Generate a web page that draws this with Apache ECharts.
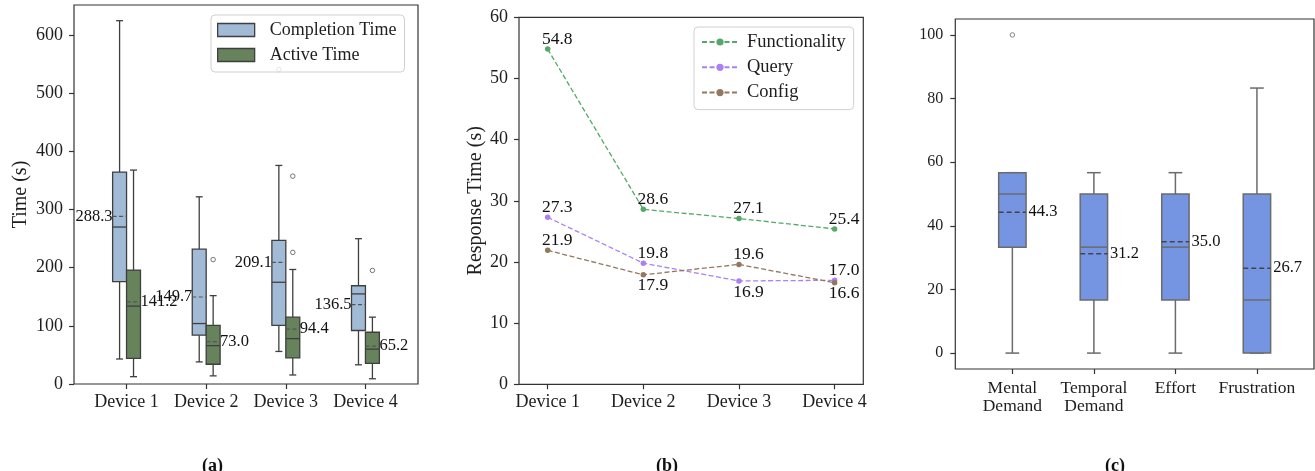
<!DOCTYPE html>
<html>
<head>
<meta charset="utf-8">
<script src="https://cdn.jsdelivr.net/npm/echarts@6/dist/echarts.min.js"></script>
<style>html,body{margin:0;padding:0;background:#fff;}#c{width:1315px;height:471px;}</style>
</head>
<body>
<div id="c"></div>
<script>
// ---------- Panel (a) data ----------
const devices = ['Device 1', 'Device 2', 'Device 3', 'Device 4'];
// [low whisker, Q1, median, Q3, high whisker]
const completionStats = [
  [43, 176, 270, 364.5, 625],
  [38, 84, 104, 232, 322],
  [56, 101, 175, 247, 376],
  [33, 92, 155, 169, 250]
];
const completionMeans = [288.3, 149.7, 209.1, 136.5];
const completionOutliers = [[2, 541]];
const activeStats = [
  [12.6, 44, 134, 196, 368],
  [14, 34, 66, 101, 152],
  [15.5, 45, 78, 115, 197],
  [9, 35.5, 60, 89, 115]
];
const activeMeans = [141.2, 73.0, 94.4, 65.2];
const activeOutliers = [[1, 214], [2, 357.6], [2, 226.4], [3, 195.4]];
const timeTicks = [0, 100, 200, 300, 400, 500, 600];

// ---------- Panel (b) data ----------
const funcTimes = [54.8, 28.6, 27.1, 25.4];
const queryTimes = [27.3, 19.8, 16.9, 17.0];
const configTimes = [21.9, 17.9, 19.6, 16.6];
const respTicks = [0, 10, 20, 30, 40, 50, 60];
// label placement (true = below the point)
const queryBelow = [false, false, true, false];
const configBelow = [false, true, false, true];

// ---------- Panel (c) data ----------
const tlxDims = ['Mental\nDemand', 'Temporal\nDemand', 'Effort', 'Frustration'];
const tlxStats = [
  [0, 33.3, 50, 56.7, 56.7],
  [0, 16.7, 33.3, 50, 56.7],
  [0, 16.7, 33.3, 50, 56.7],
  [0, 0, 16.7, 50, 83.3]
];
const tlxMeans = [44.3, 31.2, 35.0, 26.7];
const tlxOutliers = [[0, 100]];
const tlxTicks = [0, 20, 40, 60, 80, 100];

const FONT = 'Liberation Serif';
const catIdx = [0, 1, 2, 3];

function boxData(stats, means) {
  return stats.map((s, i) => [i, s[0], s[1], s[2], s[3], s[4], means[i]]);
}

function makeBoxRender(cfg) {
  return function (params, api) {
    const x = api.value(0) + cfg.offset;
    const lo = api.value(1), q1 = api.value(2), md = api.value(3), q3 = api.value(4), hi = api.value(5), mn = api.value(6);
    const px = v => api.coord([v, 0])[0];
    const py = v => api.coord([x, v])[1];
    const L = px(x - cfg.halfW), R = px(x + cfg.halfW), C = px(x);
    const cL = px(x - cfg.halfW / 2), cR = px(x + cfg.halfW / 2);
    const ls = { stroke: cfg.edge, lineWidth: cfg.edgeW };
    const children = [
      { type: 'line', shape: { x1: C, y1: py(lo), x2: C, y2: py(q1) }, style: ls },
      { type: 'line', shape: { x1: C, y1: py(q3), x2: C, y2: py(hi) }, style: ls },
      { type: 'line', shape: { x1: cL, y1: py(lo), x2: cR, y2: py(lo) }, style: ls },
      { type: 'line', shape: { x1: cL, y1: py(hi), x2: cR, y2: py(hi) }, style: ls },
      { type: 'rect', shape: { x: L, y: py(q3), width: R - L, height: py(q1) - py(q3) },
        style: { fill: cfg.fill, stroke: cfg.edge, lineWidth: cfg.edgeW } },
      { type: 'line', shape: { x1: L, y1: py(md), x2: R, y2: py(md) }, style: { stroke: cfg.medColor, lineWidth: cfg.edgeW } },
      { type: 'line', shape: { x1: L, y1: py(mn), x2: R, y2: py(mn) },
        style: { stroke: cfg.meanColor, lineWidth: cfg.meanW, lineDash: cfg.meanDash } },
      { type: 'text', style: {
          text: mn.toFixed(1),
          x: cfg.labelSide === 'left' ? L - cfg.labelGap : R + cfg.labelGap,
          y: py(mn),
          align: cfg.labelSide === 'left' ? 'right' : 'left',
          verticalAlign: 'middle',
          fontSize: cfg.labelSize, fontFamily: FONT, fill: '#111'
        } }
    ];
    return { type: 'group', children: children };
  };
}

const axisTextA = { fontFamily: FONT, fontSize: 18, color: '#1e1e1e' };
const tickStyle = { color: '#333', width: 1.2 };
const hiddenLine = { show: false, onZero: false };

const option = {
  animation: false,
  backgroundColor: '#fff',
  title: [
    { text: '(a)', left: 207.5, top: 452, textAlign: 'center', textStyle: { fontFamily: FONT, fontSize: 18, fontWeight: 'bold', color: '#111' } },
    { text: '(b)', left: 662, top: 452, textAlign: 'center', textStyle: { fontFamily: FONT, fontSize: 18, fontWeight: 'bold', color: '#111' } },
    { text: '(c)', left: 1110, top: 452, textAlign: 'center', textStyle: { fontFamily: FONT, fontSize: 18, fontWeight: 'bold', color: '#111' } }
  ],
  grid: [
    { left: 74, top: 5, width: 344, height: 379, show: true, borderColor: '#333', borderWidth: 1.2, backgroundColor: 'transparent' },
    { left: 519, top: 17.3, width: 344.3, height: 367, show: true, borderColor: '#333', borderWidth: 1.2, backgroundColor: 'transparent' },
    { left: 955.3, top: 19, width: 358.7, height: 350, show: true, borderColor: '#333', borderWidth: 1.2, backgroundColor: 'transparent' }
  ],
  xAxis: [
    { gridIndex: 0, type: 'value', min: -0.66, max: 3.66, splitLine: { show: false }, axisLine: hiddenLine,
      axisTick: { customValues: catIdx, length: 5, lineStyle: tickStyle },
      axisLabel: Object.assign({ customValues: catIdx, margin: 9, formatter: v => devices[Math.round(v)] }, axisTextA) },
    { gridIndex: 1, type: 'value', min: -0.3, max: 3.3, splitLine: { show: false }, axisLine: hiddenLine,
      axisTick: { customValues: catIdx, length: 5, lineStyle: tickStyle },
      axisLabel: Object.assign({ customValues: catIdx, margin: 9, formatter: v => devices[Math.round(v)] }, axisTextA) },
    { gridIndex: 2, type: 'value', min: -0.7, max: 3.7, splitLine: { show: false }, axisLine: hiddenLine,
      axisTick: { customValues: catIdx, length: 5, lineStyle: tickStyle },
      axisLabel: { customValues: catIdx, margin: 10, formatter: v => tlxDims[Math.round(v)],
        fontFamily: FONT, fontSize: 17.5, color: '#1e1e1e', lineHeight: 18 } }
  ],
  yAxis: [
    { gridIndex: 0, type: 'value', min: 0, max: 652, splitLine: { show: false }, axisLine: hiddenLine,
      name: 'Time (s)', nameLocation: 'middle', nameGap: 43,
      nameTextStyle: { fontFamily: FONT, fontSize: 20, color: '#1e1e1e' },
      axisTick: { customValues: timeTicks, length: 5, lineStyle: tickStyle },
      axisLabel: Object.assign({ customValues: timeTicks, margin: 11 }, axisTextA) },
    { gridIndex: 1, type: 'value', min: 0, max: 60, splitLine: { show: false }, axisLine: hiddenLine,
      name: 'Response Time (s)', nameLocation: 'middle', nameGap: 30,
      nameTextStyle: { fontFamily: FONT, fontSize: 20, color: '#1e1e1e' },
      axisTick: { customValues: respTicks, length: 5, lineStyle: tickStyle },
      axisLabel: Object.assign({ customValues: respTicks, margin: 11 }, axisTextA) },
    { gridIndex: 2, type: 'value', min: -5, max: 105, splitLine: { show: false }, axisLine: hiddenLine,
      axisTick: { customValues: tlxTicks, length: 5, lineStyle: tickStyle },
      axisLabel: { customValues: tlxTicks, margin: 12, fontFamily: FONT, fontSize: 16, color: '#1e1e1e' } }
  ],
  legend: [
    { selectedMode: false, orient: 'vertical', left: 211, top: 15, itemWidth: 37, itemHeight: 13, itemGap: 5,
      padding: [5, 8, 7, 6], borderColor: '#d0d0d0', borderWidth: 1, borderRadius: 4, backgroundColor: 'rgba(255,255,255,0.8)',
      textStyle: { fontFamily: FONT, fontSize: 18, color: '#1e1e1e', lineHeight: 20, padding: [0, 0, 0, 10] },
      data: [
        { name: 'Completion Time', icon: 'rect', itemStyle: { color: '#a1bbd6', borderColor: '#3f3f3f', borderWidth: 1.3 } },
        { name: 'Active Time', icon: 'rect', itemStyle: { color: '#66835c', borderColor: '#3f3f3f', borderWidth: 1.3 } }
      ] },
    { selectedMode: false, orient: 'vertical', left: 694, top: 27, itemWidth: 36, itemHeight: 9, itemGap: 5.3,
      padding: [5, 8, 7, 7], borderColor: '#d0d0d0', borderWidth: 1, borderRadius: 4, backgroundColor: 'rgba(255,255,255,0.8)',
      textStyle: { fontFamily: FONT, fontSize: 18.5, color: '#1e1e1e', lineHeight: 20, padding: [0, 0, 0, 4] },
      data: ['Functionality', 'Query', 'Config'] }
  ],
  series: [
    { type: 'custom', name: 'Completion Time', xAxisIndex: 0, yAxisIndex: 0, clip: false,
      itemStyle: { color: '#a1bbd6' },
      renderItem: makeBoxRender({ offset: -0.0875, halfW: 0.0875, fill: '#a1bbd6', edge: '#3f3f3f', edgeW: 1.3,
        medColor: '#3f3f3f', meanColor: '#555', meanW: 1.2, meanDash: [4, 2.5], labelSide: 'left', labelGap: 0, labelSize: 16.5 }),
      encode: { x: 0, y: [1, 2, 3, 4, 5, 6] },
      data: boxData(completionStats, completionMeans) },
    { type: 'custom', name: 'Active Time', xAxisIndex: 0, yAxisIndex: 0, clip: false,
      itemStyle: { color: '#66835c' },
      renderItem: makeBoxRender({ offset: 0.0875, halfW: 0.0875, fill: '#66835c', edge: '#3f3f3f', edgeW: 1.3,
        medColor: '#3f3f3f', meanColor: '#555', meanW: 1.2, meanDash: [4, 2.5], labelSide: 'right', labelGap: 0, labelSize: 16.5 }),
      encode: { x: 0, y: [1, 2, 3, 4, 5, 6] },
      data: boxData(activeStats, activeMeans) },
    { type: 'scatter', xAxisIndex: 0, yAxisIndex: 0, symbol: 'circle', symbolSize: 4.5, silent: true,
      itemStyle: { color: '#ffffff', borderColor: '#666', borderWidth: 1 },
      data: completionOutliers.map(o => [o[0] - 0.0875, o[1]]) },
    { type: 'scatter', xAxisIndex: 0, yAxisIndex: 0, symbol: 'circle', symbolSize: 4.5, silent: true,
      itemStyle: { color: '#ffffff', borderColor: '#555', borderWidth: 1 },
      data: activeOutliers.map(o => [o[0] + 0.0875, o[1]]) },

    // Panel (b)
    { type: 'line', name: 'Functionality', xAxisIndex: 1, yAxisIndex: 1, symbol: 'circle', symbolSize: 5.5,
      itemStyle: { color: '#55a868' }, lineStyle: { color: '#55a868', width: 1.3, type: [5, 2.5] },
      label: { show: true, position: 'inside', offset: [9.5, -10], fontFamily: FONT, fontSize: 17.5, color: '#111',
        formatter: p => p.value[1].toFixed(1) },
      data: funcTimes.map((v, i) => [i, v]) },
    { type: 'line', name: 'Query', xAxisIndex: 1, yAxisIndex: 1, symbol: 'circle', symbolSize: 5.5,
      itemStyle: { color: '#ac80f2' }, lineStyle: { color: '#ac80f2', width: 1.3, type: [5, 2.5] },
      label: { show: true, position: 'inside', fontFamily: FONT, fontSize: 17.5, color: '#111',
        formatter: p => p.value[1].toFixed(1) },
      data: queryTimes.map((v, i) => ({ value: [i, v], label: { offset: queryBelow[i] ? [9.5, 11] : [9.5, -10] } })) },
    { type: 'line', name: 'Config', xAxisIndex: 1, yAxisIndex: 1, symbol: 'circle', symbolSize: 5.5,
      itemStyle: { color: '#937860' }, lineStyle: { color: '#937860', width: 1.3, type: [5, 2.5] },
      label: { show: true, position: 'inside', fontFamily: FONT, fontSize: 17.5, color: '#111',
        formatter: p => p.value[1].toFixed(1) },
      data: configTimes.map((v, i) => ({ value: [i, v], label: { offset: configBelow[i] ? [9.5, 11] : [9.5, -10] } })) },

    // Panel (c)
    { type: 'custom', name: 'TLX', xAxisIndex: 2, yAxisIndex: 2, clip: false,
      itemStyle: { color: '#7595e3' },
      renderItem: makeBoxRender({ offset: 0, halfW: 0.168, fill: '#7595e3', edge: '#6b6b6b', edgeW: 1.5,
        medColor: '#6b6b6b', meanColor: '#454545', meanW: 1.5, meanDash: [5, 3], labelSide: 'right', labelGap: 2.5, labelSize: 16.5 }),
      encode: { x: 0, y: [1, 2, 3, 4, 5, 6] },
      data: boxData(tlxStats, tlxMeans) },
    { type: 'scatter', xAxisIndex: 2, yAxisIndex: 2, symbol: 'circle', symbolSize: 4.5, silent: true,
      itemStyle: { color: '#ffffff', borderColor: '#6b6b6b', borderWidth: 1 },
      data: tlxOutliers }
  ]
};

const chart = echarts.init(document.getElementById('c'), null, { renderer: 'canvas' });
chart.setOption(option);
</script>
</body>
</html>
